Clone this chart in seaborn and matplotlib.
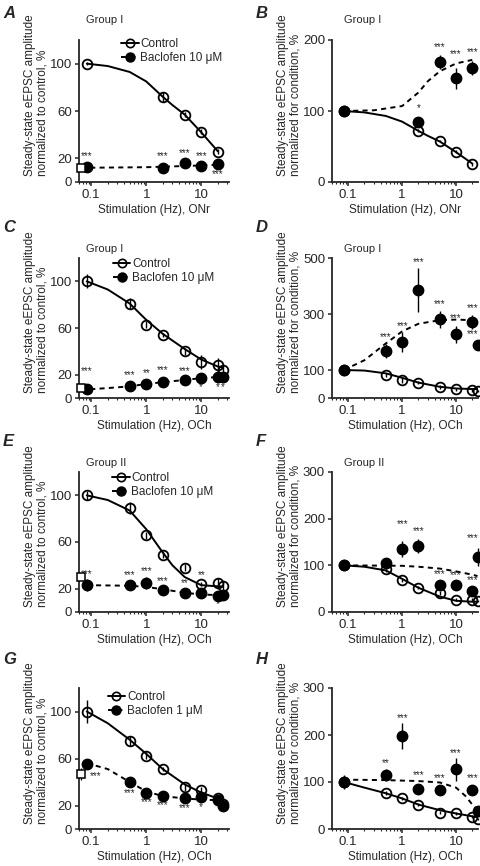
import seaborn as sns
import matplotlib.pyplot as plt
from matplotlib.lines import Line2D
from matplotlib.ticker import FixedLocator, FixedFormatter, NullFormatter, LogLocator

sns.set_style("ticks")
plt.rcParams['font.family'] = ['Liberation Sans', 'DejaVu Sans']

W, H = 480, 866

# stimulation frequencies (Hz)
hz_short = [0.083, 2, 5, 10, 20]
hz_long = [0.083, 0.5, 1, 2, 5, 10, 20, 25]
hz_square = 0.065

# A - Group I, ONr, normalized to control
a_ctrl = [100, 72, 57, 42.6, 25.7]
a_ctrl_err = [1, 4, 2, 2, 2]
a_bac = [13, 12, 16, 13.5, 15]
a_bac_err = [1, 1, 1.5, 1, 1]
a_sq = 12
a_fit_x_c = [0.083, 0.2, 0.5, 1, 2, 3, 5, 10, 20]
a_fit_c = [100, 98, 93, 85, 72, 65, 57, 42, 26]
a_fit_x_b = [0.065, 1, 5, 20]
a_fit_b = [12, 12.5, 13.5, 14.5]
a_stars = [(0.083, 22, '***'), (2, 22, '***'), (5, 24.5, '***'), (10, 22, '***'), (20, 7, '***')]

# B - Group I, ONr, normalized for condition
b_ctrl = [100, 72, 57.7, 42.7, 25]
b_ctrl_err = [1, 2, 2, 2, 2]
b_bac = [100, 85, 169, 146, 161]
b_bac_err = [2, 7, 10, 15, 10]
b_fit_x_b = [0.083, 0.3, 1, 2, 3, 5, 10, 20]
b_fit_b = [100, 101, 107, 126, 142, 156, 167, 172]
b_stars = [(2, 104, '*'), (5, 190, '***'), (10, 180, '***'), (20, 183, '***')]

# C - Group I, OCh, normalized to control
c_ctrl = [100, 81, 63, 54, 40, 31, 28, 24]
c_ctrl_err = [6, 5, 3, 2, 3, 6, 6, 4]
c_bac = [7.3, 10.2, 12.4, 13.8, 15.3, 17.2, 18, 18]
c_bac_err = [1, 1, 1.5, 2, 1.5, 2, 4, 4]
c_sq = 9
c_fit_x_c = [0.083, 0.2, 0.5, 1, 2, 5, 10, 20, 25]
c_fit_c = [100, 93, 81, 67, 55, 42, 33, 27, 26]
c_fit_x_b = [0.065, 0.2, 0.5, 1, 2, 5, 10, 20, 25]
c_fit_b = [7, 8.5, 10, 12, 13.5, 15.5, 17, 18, 18.5]
c_stars = [(0.083, 23, '***'), (0.5, 19.5, '***'), (1, 21.5, '**'), (2, 24, '***'),
           (5, 23, '***'), (10, 9.5, '*'), (20, 9.5, '*'), (25, 9.5, '*')]

# D - Group I, OCh, normalized for condition
d_ctrl = [100, 82, 63, 55, 40, 31, 28, 25]
d_ctrl_err = [2, 8, 8, 6, 8, 6, 6, 5]
d_bac = [100, 168, 200, 386, 281, 227, 271, 191]
d_bac_err = [5, 25, 35, 80, 30, 30, 25, 10]
d_fit_x_c = [0.083, 0.2, 0.5, 1, 2, 5, 10, 20, 25]
d_fit_c = [100, 98, 88, 72, 55, 40, 34, 32, 32]
d_fit_x_b = [0.083, 0.2, 0.5, 1, 2, 5, 10, 20, 25]
d_fit_b = [100, 135, 195, 238, 265, 278, 280, 278, 276]
d_stars = [(0.5, 218, '***'), (1, 257, '***'), (2, 487, '***'), (5, 336, '***'),
           (10, 286, '***'), (20, 321, '***'), (25.5, 229, '***')]

# E - Group II, OCh, normalized to control
e_ctrl = [100, 89, 66, 49, 38, 24, 24.5, 22]
e_ctrl_err = [4, 5, 3, 3, 3, 2, 5, 4]
e_bac = [23, 23, 25, 19, 16, 16.5, 14, 15]
e_bac_err = [5, 4, 5, 4, 2, 3, 3, 2]
e_sq = 30
e_fit_x_c = [0.083, 0.2, 0.5, 1, 2, 3, 5, 10, 20, 25]
e_fit_c = [100, 96, 87, 71, 51, 40, 30, 23, 22, 22]
e_fit_x_b = [0.083, 0.5, 1, 2, 5, 10, 20, 25]
e_fit_b = [23, 22.5, 21.5, 19.5, 16.5, 15, 14.5, 14.5]
e_stars = [(0.083, 32.5, '***'), (0.5, 32, '***'), (1, 35, '***'), (2, 26.5, '***'),
           (5, 25, '**'), (10, 32, '**'), (20, 7, '*')]

# F - Group II, OCh, normalized for condition
f_ctrl = [100, 92, 69, 52, 40, 26, 26, 24]
f_ctrl_err = [3, 7, 4, 3, 4, 3, 3, 2]
f_bac = [100, 105, 135, 141, 58, 57, 46, 118]
f_bac_err = [4, 10, 18, 15, 5, 5, 5, 20]
f_fit_x_c = [0.083, 0.2, 0.5, 1, 2, 5, 10, 20, 25]
f_fit_c = [100, 97, 89, 71, 52, 33, 24, 22, 22]
f_fit_x_b = [0.083, 1, 2, 5, 10, 20, 25]
f_fit_b = [100, 99, 97, 93, 87, 80, 77]
f_stars = [(1, 188, '***'), (2, 174, '***'), (5, 81, '***'), (10, 79, '***'),
           (20, 69, '***'), (25.5, 158, '***')]

# G - OCh, baclofen 1 uM, normalized to control
g_ctrl = [100, 75, 62.5, 51, 35.5, 33, 26, 21]
g_ctrl_err = [10, 4, 3, 2, 3, 3, 3, 2]
g_bac = [55, 40, 31, 28, 26, 27, 25, 20]
g_bac_err = [4, 3, 2, 2, 2, 2, 2, 2]
g_sq = 47
g_fit_x_c = [0.083, 0.2, 0.5, 1, 2, 5, 10, 20, 25]
g_fit_c = [100, 90, 76, 64, 51, 38, 31, 26, 24]
g_fit_x_b = [0.083, 0.2, 0.5, 1, 2, 5, 10, 20, 25]
g_fit_b = [56, 51, 40, 32, 28, 26, 25, 24.5, 24]
g_stars = [(0.12, 45, '***'), (0.5, 30.5, '***'), (1, 23, '***'), (2, 20, '***'),
           (5, 17.5, '***'), (10, 18.7, '*')]

# H - OCh, baclofen 1 uM, normalized for condition
h_ctrl = [100, 76, 65, 52, 35, 33, 26, 21]
h_ctrl_err = [5, 4, 3, 3, 4, 3, 3, 2]
h_bac = [100, 115, 198, 85, 84, 127, 83, 38]
h_bac_err = [15, 12, 28, 6, 6, 25, 10, 6]
h_fit_x_c = [0.083, 0.2, 0.5, 1, 2, 5, 10, 20, 25]
h_fit_c = [100, 88, 76, 65, 52, 40, 33, 27, 25]
h_fit_x_b = [0.083, 0.5, 1, 2, 5, 10, 15, 20, 25]
h_fit_b = [105, 104, 103, 102, 99, 88, 70, 52, 40]
h_stars = [(0.5, 140, '**'), (1, 235, '***'), (2, 115, '***'), (5, 108, '***'),
           (10, 162, '***'), (20, 108, '***')]

ylab_ctrl = "Steady-state eEPSC amplitude\nnormalized to control, %"
ylab_cond = "Steady-state eEPSC amplitude\nnormalized for condition, %"


def px_rect(left, top, right, bottom):
    return [left / W, 1 - bottom / H, (right - left) / W, (bottom - top) / H]


def draw_panel(ax, x, ctrl, ctrl_err, bac, bac_err, fit_xc, fit_c, fit_xb, fit_b,
               stars, ylim, yticks, xlim, xlabel):
    sns.lineplot(x=fit_xc, y=fit_c, ax=ax, color='k', lw=1.4, estimator=None, sort=False)
    sns.lineplot(x=fit_xb, y=fit_b, ax=ax, color='k', lw=1.4, estimator=None, sort=False,
                 linestyle=(0, (2.6, 2.2)))
    ax.errorbar(x, ctrl, yerr=ctrl_err, fmt='o', ms=7, mfc='none', mec='k', mew=1.3,
                ecolor='k', elinewidth=1.0, capsize=0, clip_on=False, zorder=3)
    ax.errorbar(x, bac, yerr=bac_err, fmt='o', ms=7.5, mfc='k', mec='k',
                ecolor='k', elinewidth=1.0, capsize=0, clip_on=False, zorder=4)
    for sx, sy, s in stars:
        # stars at the right edge are right-aligned so they stay inside the figure
        ha = 'right' if sx > 25 else 'center'
        ax.text(sx, sy, s, ha=ha, va='center', fontsize=7, clip_on=False)
    ax.set_xscale('log')
    ax.set_xlim(*xlim)
    ax.set_ylim(*ylim)
    ax.xaxis.set_major_locator(FixedLocator([0.1, 1, 10]))
    ax.xaxis.set_major_formatter(FixedFormatter(['0.1', '1', '10']))
    ax.xaxis.set_minor_locator(LogLocator(base=10, subs=range(2, 10), numticks=20))
    ax.xaxis.set_minor_formatter(NullFormatter())
    ax.set_yticks(yticks)
    ax.tick_params(axis='both', which='major', labelsize=9.5, width=1.1, length=3, pad=2)
    ax.tick_params(axis='x', which='minor', width=0.8, length=1.6)
    for sp in ['left', 'bottom']:
        ax.spines[sp].set_linewidth(1.3)
    sns.despine(ax=ax)
    ax.set_xlabel(xlabel, fontsize=8.5, labelpad=2)
    ax.set_ylabel('')


fig = plt.figure(figsize=(W / 100, H / 100), dpi=100)

rows = [(40, 182), (258, 398), (472, 612), (688, 829)]
left_col = (79, 229)
right_col = (332, 478)
xlim_l = (0.06, 32)
xlim_r = (0.05, 25.5)

panels = [
    # letter, col, row, x, ctrl, ctrl_err, bac, bac_err, fits..., stars, ylim, yticks, xlab, ylab, group, square, legend
    ('A', 0, 0, hz_short, a_ctrl, a_ctrl_err, a_bac, a_bac_err, a_fit_x_c, a_fit_c, a_fit_x_b, a_fit_b,
     a_stars, (0, 120), [0, 20, 60, 100], 'Stimulation (Hz), ONr', ylab_ctrl, 'Group I', (a_sq, 1),
     ('Baclofen 10 μM', 0.28, 1.015)),
    ('B', 1, 0, hz_short, b_ctrl, b_ctrl_err, b_bac, b_bac_err, a_fit_x_c, a_fit_c, b_fit_x_b, b_fit_b,
     b_stars, (0, 200), [0, 100, 200], 'Stimulation (Hz), ONr', ylab_cond, 'Group I', None, None),
    ('C', 0, 1, hz_long, c_ctrl, c_ctrl_err, c_bac, c_bac_err, c_fit_x_c, c_fit_c, c_fit_x_b, c_fit_b,
     c_stars, (0, 120), [0, 20, 60, 100], 'Stimulation (Hz), OCh', ylab_ctrl, 'Group I', (c_sq, 1),
     ('Baclofen 10 μM', 0.225, 1.0)),
    ('D', 1, 1, hz_long, d_ctrl, d_ctrl_err, d_bac, d_bac_err, d_fit_x_c, d_fit_c, d_fit_x_b, d_fit_b,
     d_stars, (0, 500), [0, 100, 300, 500], 'Stimulation (Hz), OCh', ylab_cond, 'Group I', None, None),
    ('E', 0, 2, hz_long, e_ctrl, e_ctrl_err, e_bac, e_bac_err, e_fit_x_c, e_fit_c, e_fit_x_b, e_fit_b,
     e_stars, (0, 120), [0, 20, 60, 100], 'Stimulation (Hz), OCh', ylab_ctrl, 'Group II', (e_sq, 2),
     ('Baclofen 10 μM', 0.22, 1.0)),
    ('F', 1, 2, hz_long, f_ctrl, f_ctrl_err, f_bac, f_bac_err, f_fit_x_c, f_fit_c, f_fit_x_b, f_fit_b,
     f_stars, (0, 300), [0, 100, 200, 300], 'Stimulation (Hz), OCh', ylab_cond, 'Group II', None, None),
    ('G', 0, 3, hz_long, g_ctrl, g_ctrl_err, g_bac, g_bac_err, g_fit_x_c, g_fit_c, g_fit_x_b, g_fit_b,
     g_stars, (0, 120), [0, 20, 60, 100], 'Stimulation (Hz), OCh', ylab_ctrl, None, (g_sq, 5),
     ('Baclofen 1 μM', 0.19, 0.98)),
    ('H', 1, 3, hz_long, h_ctrl, h_ctrl_err, h_bac, h_bac_err, h_fit_x_c, h_fit_c, h_fit_x_b, h_fit_b,
     h_stars, (0, 300), [0, 100, 200, 300], 'Stimulation (Hz), OCh', ylab_cond, None, None, None),
]

for p in panels:
    (letter, col, row, x, ctrl, ctrl_err, bac, bac_err, fxc, fc, fxb, fb, stars,
     ylim, yticks, xlab, ylab, group, square, leg) = p
    top, bottom = rows[row]
    left, right = left_col if col == 0 else right_col
    ax = fig.add_axes(px_rect(left, top, right, bottom))
    draw_panel(ax, x, ctrl, ctrl_err, bac, bac_err, fxc, fc, fxb, fb, stars, ylim, yticks,
               xlim_l if col == 0 else xlim_r, xlab)

    if square is not None:
        ax.errorbar([hz_square], [square[0]], yerr=[square[1]], fmt='s', ms=6, mfc='white',
                    mec='k', mew=1.1, ecolor='k', elinewidth=0.9, capsize=0,
                    clip_on=False, zorder=5)

    if group is not None:
        ax.text(0.05 if col == 0 else 0.08, (bottom - (top - 20 if row == 0 else top - 9)) / (bottom - top),
                group, transform=ax.transAxes, fontsize=8, ha='left', va='center')

    if leg is not None:
        handles = [Line2D([], [], color='k', lw=1.4, marker='o', ms=6, mfc='none', mew=1.2),
                   Line2D([], [], color='k', lw=1.4, ls=(0, (2.6, 2.2)), marker='o', ms=6.5, mfc='k')]
        ax.legend(handles, ['Control', leg[0]], loc='upper left', bbox_to_anchor=(leg[1], leg[2]),
                  frameon=False, fontsize=8.5, handlelength=1.5, handletextpad=0.15,
                  labelspacing=0.2, borderpad=0, borderaxespad=0)

    # y label (two lines, left aligned)
    fig.text((left - 43) / W, 1 - (bottom - 0.61 * (bottom - top)) / H, ylab,
             rotation=90, ha='center', va='center', multialignment='left', fontsize=8.5,
             linespacing=1.1)

    # panel letter
    fig.text((3 if col == 0 else 256) / W, 1 - (top - 26 if row == 0 else top - 30 if row < 3 else top - 29) / H,
             letter, fontsize=12, fontweight='bold', fontstyle='italic', ha='left', va='center')

fig.savefig('out.png', dpi=100)
